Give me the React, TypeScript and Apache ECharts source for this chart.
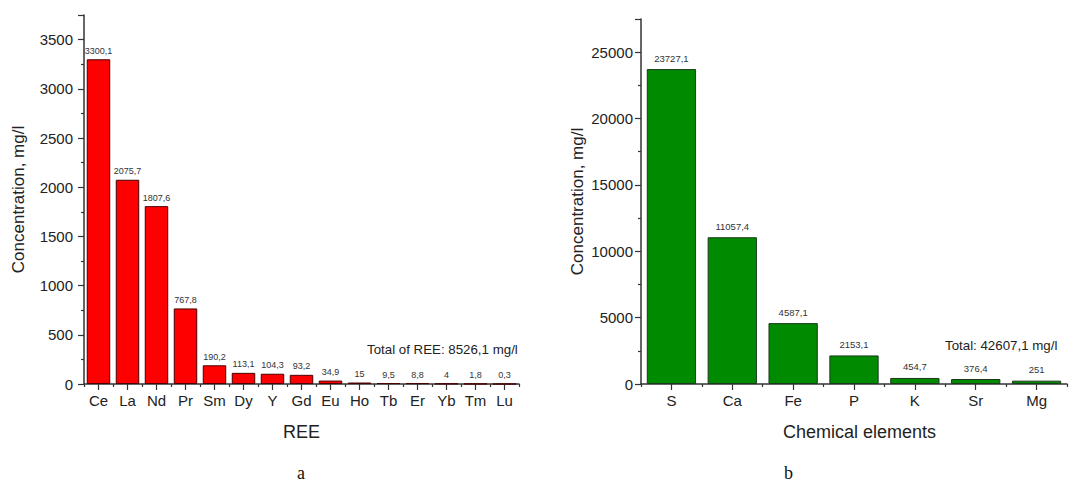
import React, { useEffect, useRef } from "react";
import * as echarts from "echarts";

const reeCategories = ["Ce", "La", "Nd", "Pr", "Sm", "Dy", "Y", "Gd", "Eu", "Ho", "Tb", "Er", "Yb", "Tm", "Lu"];
const reeValues = [3300.1, 2075.7, 1807.6, 767.8, 190.2, 113.1, 104.3, 93.2, 34.9, 15, 9.5, 8.8, 4, 1.8, 0.3];
const chemCategories = ["S", "Ca", "Fe", "P", "K", "Sr", "Mg"];
const chemValues = [23727.1, 11057.4, 4587.1, 2153.1, 454.7, 376.4, 251];
const reeTotal = "Total of REE: 8526,1 mg/l";
const chemTotal = "Total: 42607,1 mg/l";

const fmt = (v: number) => String(v).replace(".", ",");
const FONT = "Arial, 'Liberation Sans', sans-serif";
const SERIF = "'Liberation Serif', 'Times New Roman', serif";
const AXIS_COLOR = "#333";

function makeAxes(gridIndex: number, cats: string[]) {
  return [
    {
      type: "category",
      gridIndex,
      data: cats,
      axisLine: { show: true, lineStyle: { color: AXIS_COLOR, width: 1.5 } },
      axisTick: { show: true, alignWithLabel: true, interval: 0, length: 6, lineStyle: { color: AXIS_COLOR, width: 1.2 } },
      axisLabel: { color: "#222", fontSize: 15, fontFamily: FONT, margin: 9, interval: 0 },
      splitLine: { show: false },
    },
    {
      type: "category",
      gridIndex,
      data: cats,
      position: "bottom",
      axisLine: { show: false },
      axisTick: { show: true, interval: 0, length: 3, lineStyle: { color: AXIS_COLOR, width: 1.2 } },
      axisLabel: { show: false },
      splitLine: { show: false },
    },
  ];
}

export default function App() {
  const ref = useRef<HTMLDivElement>(null);
  useEffect(() => {
    if (!ref.current) return;
    const chart = echarts.init(ref.current, null, { renderer: "svg" });
    const xAxes = [...makeAxes(0, reeCategories), ...makeAxes(1, chemCategories)];
    const yBase = {
      type: "value",
      axisLine: { show: true, lineStyle: { color: AXIS_COLOR, width: 1.5 } },
      axisTick: { show: true, length: 6, lineStyle: { color: AXIS_COLOR, width: 1.2 } },
      minorTick: { show: true, splitNumber: 2, length: 3, lineStyle: { color: AXIS_COLOR, width: 1.2 } },
      splitLine: { show: false },
      minorSplitLine: { show: false },
      nameLocation: "middle",
      nameTextStyle: { color: "#222", fontSize: 17, fontFamily: FONT },
    };
    chart.setOption({
      animation: false,
      backgroundColor: "#fff",
      grid: [
        { left: 84, width: 435, top: 15, height: 369 },
        { left: 641, width: 426, top: 19, height: 365 },
      ],
      xAxis: xAxes,
      yAxis: [
        {
          ...yBase,
          gridIndex: 0,
          min: 0,
          max: 3750,
          interval: 500,
          name: "Concentration, mg/l",
          nameGap: 57,
          axisLabel: {
            color: "#222", fontSize: 15, fontFamily: FONT, margin: 11,
            formatter: (v: number) => (v > 3500 ? "" : String(v)),
          },
        },
        {
          ...yBase,
          gridIndex: 1,
          min: 0,
          max: 27500,
          interval: 5000,
          name: "Concentration, mg/l",
          nameGap: 55,
          axisLabel: {
            color: "#222", fontSize: 15, fontFamily: FONT, margin: 8,
            formatter: (v: number) => (v > 25000 ? "" : String(v)),
          },
        },
      ],
      series: [
        {
          type: "bar",
          xAxisIndex: 0,
          yAxisIndex: 0,
          data: reeValues,
          barCategoryGap: "19%",
          itemStyle: { color: "#ff0000", borderColor: "#4a0000", borderWidth: 1 },
          label: {
            show: true, position: "top", distance: 4, color: "#333", fontSize: 9, fontFamily: FONT,
            formatter: (p: any) => fmt(p.value),
          },
        },
        {
          type: "bar",
          xAxisIndex: 2,
          yAxisIndex: 1,
          data: chemValues,
          barCategoryGap: "19%",
          itemStyle: { color: "#008a00", borderColor: "#1c3a1c", borderWidth: 1 },
          label: {
            show: true, position: "top", distance: 6, color: "#333", fontSize: 9.5, fontFamily: FONT,
            formatter: (p: any) => fmt(p.value),
          },
        },
      ],
      graphic: [
        { type: "text", left: 367, top: 343, style: { text: reeTotal, fill: "#222", fontSize: 13.3, fontFamily: FONT } },
        { type: "text", left: 945, top: 339, style: { text: chemTotal, fill: "#222", fontSize: 13.3, fontFamily: FONT } },
        { type: "text", left: 283, top: 423, style: { text: "REE", fill: "#222", fontSize: 18, fontFamily: FONT } },
        { type: "text", left: 783, top: 423, style: { text: "Chemical elements", fill: "#222", fontSize: 18, fontFamily: FONT } },
        { type: "text", left: 297, top: 464, style: { text: "a", fill: "#111", fontSize: 18, fontFamily: SERIF } },
        { type: "text", left: 784, top: 464, style: { text: "b", fill: "#111", fontSize: 18, fontFamily: SERIF } },
      ],
    });
    return () => chart.dispose();
  }, []);
  return <div ref={ref} style={{ position: "absolute", left: 0, top: 0, width: 1085, height: 483 }} />;
}
